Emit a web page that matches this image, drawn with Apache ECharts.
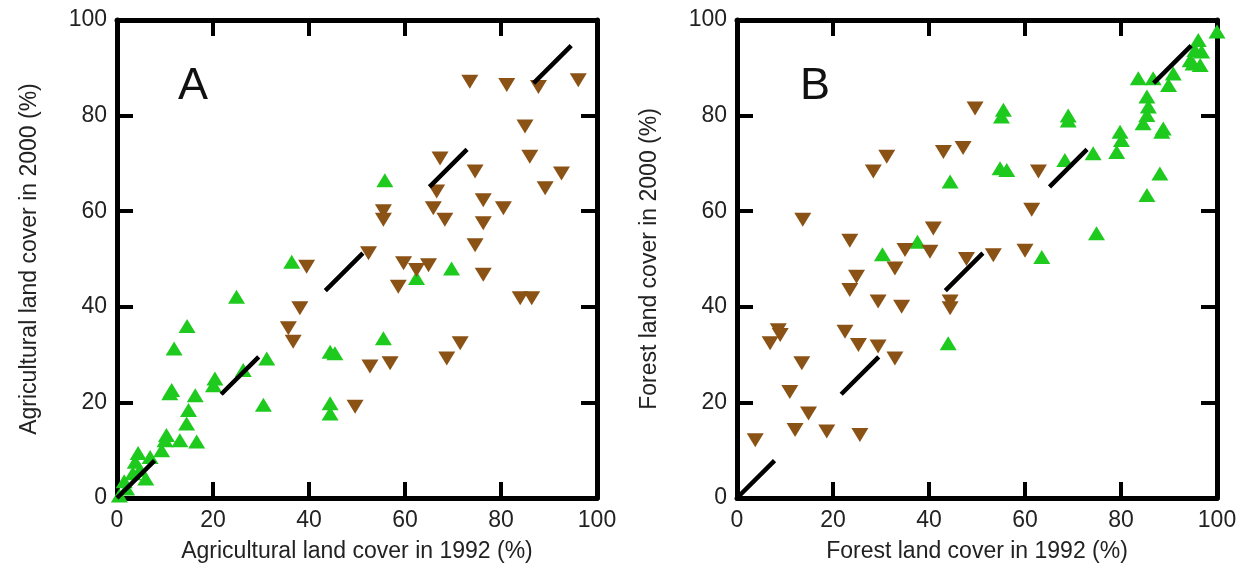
<!DOCTYPE html>
<html>
<head>
    <meta charset="utf-8"/>
    <title>Land cover 1992 vs 2000</title>
    <script src="https://cdn.jsdelivr.net/npm/echarts@6/dist/echarts.min.js"></script>
    <style>
        html, body { margin: 0; padding: 0; background: #fff; }
        #chart { width: 1245px; height: 573px; }
    </style>
</head>
<body>
<div id="chart"></div>
<script type="text/javascript">
    // panel A - agricultural land cover, [1992 %, 2000 %]
    let agriUp = [
        [36.4, 49.4], [24.9, 42.1], [14.6, 36], [11.9, 31.3], [44.4, 30.6], [45.4, 30.3],
        [31.2, 29.2], [26.3, 26.8], [20.4, 25], [20.1, 23.6], [11.4, 22.6], [11, 21.9],
        [16.3, 21.5], [30.5, 19.5], [44.4, 19.8], [44.4, 17.7], [14.9, 18.4], [14.5, 15.6],
        [10.3, 13.2], [10, 12.1], [13.1, 12.1], [16.6, 11.8], [9.3, 10], [4.4, 9.4],
        [3.8, 7.6], [4.8, 5.9], [6, 4.1], [6.9, 8.6], [3.3, 5.2], [0.5, 0.5], [2, 2],
        [1.5, 3.5], [55.8, 66.5], [62.4, 46], [69.7, 48], [55.5, 33.4]
    ];
    let agriDown = [
        [73.5, 87.1], [81.2, 86.4], [87.8, 86], [96.1, 87.4], [85, 77.7], [67.3, 71],
        [86, 71.4], [74.6, 68.3], [92.6, 67.9], [89.2, 64.8], [66.6, 64.1], [55.5, 60],
        [55.5, 58.2], [65.9, 60.6], [68.3, 58.2], [76.3, 62.3], [80.5, 60.6], [76.3, 57.5],
        [74.6, 52.9], [52.4, 51.2], [59.7, 49.1], [62.4, 47.7], [64.9, 48.7], [58.6, 44.2],
        [76.3, 46.7], [84, 41.8], [86.4, 41.8], [52.7, 27.5], [56.9, 28.2], [71.5, 32.4],
        [68.7, 29.2], [49.6, 19.1], [39.5, 48.4], [38.1, 39.7], [35.7, 35.5], [36.7, 32.7]
    ];
    // panel B - forest land cover
    let forestUp = [
        [44.4, 66.2], [37.6, 53.6], [30.3, 51], [55.5, 81.2], [55.1, 79.8], [69, 80],
        [69, 79], [54.8, 69], [56.2, 68.6], [68.3, 70.7], [74.2, 72.1], [79.8, 76.6],
        [80.1, 74.9], [79.1, 72.4], [85.4, 84], [85.7, 81.9], [85.4, 80.1], [84.6, 78.4],
        [88.8, 77.3], [88.5, 76.6], [88.1, 67.9], [85.4, 63.4], [74.9, 55.4], [83.6, 87.8],
        [86.7, 87.8], [89.9, 86.4], [90.9, 88.8], [95, 90.9], [95.4, 93.7], [96.1, 95.8],
        [96.8, 93.4], [96.5, 90.6], [100, 97.6], [94.4, 91.6], [63.5, 50.4], [44, 32.4]
    ];
    let forestDown = [
        [49.6, 81.5], [31.2, 71.4], [28.4, 68.3], [43, 72.4], [47.1, 73.2], [13.7, 58.2],
        [23.5, 53.8], [40.9, 56.4], [35, 51.9], [40.2, 51.5], [47.8, 50], [53.4, 50.8],
        [60, 51.7], [62.8, 68.3], [61.4, 60.3], [32.9, 48], [24.9, 46.3], [23.5, 43.5],
        [29.4, 41.1], [34.3, 40], [44.4, 41.1], [44.4, 39.7], [8.6, 35.1], [9, 34.1],
        [6.9, 32.4], [22.5, 34.8], [25.3, 32], [29.4, 31.7], [32.9, 29.2], [13.5, 28.2],
        [11, 22.2], [14.9, 17.7], [12.1, 14.2], [18.7, 13.9], [25.6, 13.2], [3.8, 12.1]
    ];
    let oneToOne = [[0, 0], [100, 100]];
    let axisNames = {
        a: ['Agricultural land cover in 1992 (%)', 'Agricultural land cover in 2000 (%)'],
        b: ['Forest land cover in 1992 (%)', 'Forest land cover in 2000 (%)']
    };

    const green = '#1fca1f';
    const brown = '#8a5214';
    const font = 'Liberation Sans, Arial, sans-serif';

    let makeAxis = function (grid, pos, name, gap) {
        let main = (pos === 'bottom' || pos === 'left');
        return {
            type: 'value', gridIndex: grid, position: pos,
            min: 0, max: 100, interval: 20,
            name: main ? name : '',
            nameLocation: 'middle', nameGap: gap,
            nameTextStyle: {fontSize: 23, color: '#222', fontFamily: font},
            axisLine: {show: true, onZero: false, lineStyle: {color: '#000', width: 5}},
            axisTick: {show: true, inside: true, length: 16, lineStyle: {color: '#000', width: 4}},
            axisLabel: {show: main, fontSize: 23, color: '#222', fontFamily: font,
                margin: pos === 'bottom' ? 11 : 10},
            splitLine: {show: false}
        };
    };

    let scatter = function (data, idx, up) {
        return {
            type: 'scatter', xAxisIndex: idx, yAxisIndex: idx,
            data: data, symbol: 'triangle', symbolSize: [17, 14],
            symbolRotate: up ? 0 : 180, clip: false,
            itemStyle: {color: up ? green : brown, opacity: 1}
        };
    };

    let diag = function (idx) {
        return {
            type: 'line', xAxisIndex: idx, yAxisIndex: idx, data: oneToOne,
            symbol: 'none', silent: true, z: 5,
            lineStyle: {color: '#000', width: 4.5, type: [53, 94], cap: 'butt'}
        };
    };

    let chart = echarts.init(document.getElementById('chart'));
    chart.setOption({
        animation: false,
        title: [
            {text: 'A', left: 173, top: 59, textStyle: {fontSize: 45, fontWeight: 'normal', color: '#111', fontFamily: font}},
            {text: 'B', left: 795, top: 59, textStyle: {fontSize: 45, fontWeight: 'normal', color: '#111', fontFamily: font}}
        ],
        grid: [
            {left: 117, right: 648, top: 20, bottom: 75},
            {left: 737, right: 28, top: 20, bottom: 75}
        ],
        xAxis: [
            makeAxis(0, 'bottom', axisNames.a[0], 42),
            makeAxis(1, 'bottom', axisNames.b[0], 42),
            makeAxis(0, 'top'),
            makeAxis(1, 'top')
        ],
        yAxis: [
            makeAxis(0, 'left', axisNames.a[1], 76),
            makeAxis(1, 'left', axisNames.b[1], 76),
            makeAxis(0, 'right'),
            makeAxis(1, 'right')
        ],
        series: [
            scatter(agriUp, 0, true),
            scatter(agriDown, 0, false),
            scatter(forestUp, 1, true),
            scatter(forestDown, 1, false),
            diag(0),
            diag(1)
        ]
    });
</script>
</body>
</html>
